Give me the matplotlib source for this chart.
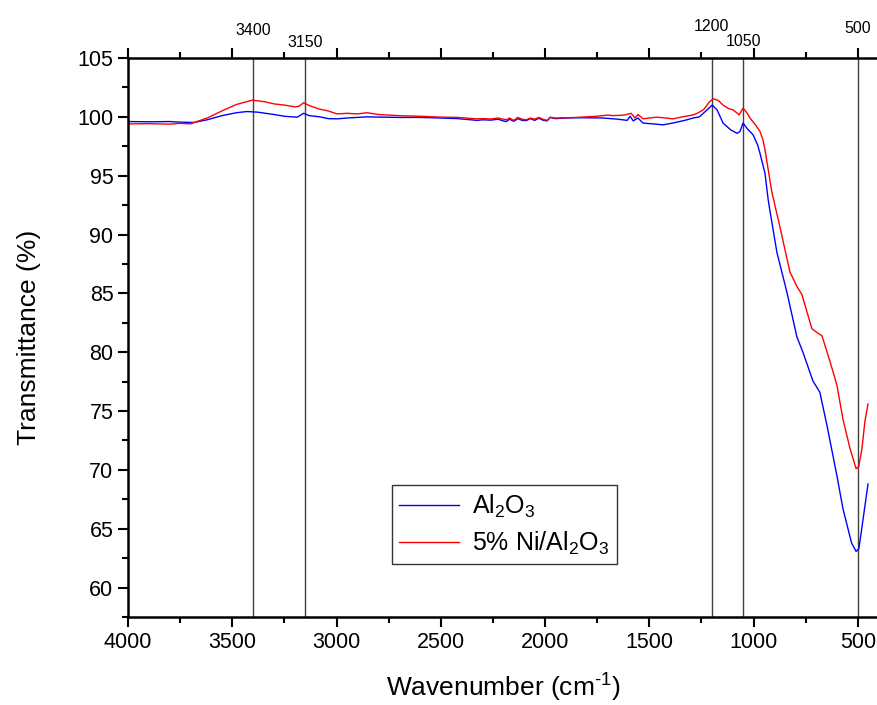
import matplotlib
matplotlib.use("Agg")
import matplotlib.pyplot as plt

plt.rcParams['font.family'] = ['Liberation Sans', 'DejaVu Sans']
plt.rcParams['mathtext.fontset'] = 'custom'
plt.rcParams['mathtext.rm'] = 'Liberation Sans'
plt.rcParams['mathtext.default'] = 'regular'

# Al2O3 spectrum (wavenumber, transmittance)
wn_al = [4000, 3900, 3800, 3750, 3686, 3620, 3550, 3480, 3430, 3380, 3300, 3250,
         3188, 3158, 3130, 3080, 3040, 2997, 2950, 2853, 2800, 2700, 2600, 2502,
         2420, 2325, 2300, 2260, 2225, 2200, 2185, 2170, 2150, 2130, 2110, 2090,
         2070, 2050, 2030, 2010, 1990, 1975, 1950, 1900, 1850, 1800, 1721, 1650,
         1606, 1592, 1577, 1554, 1530, 1480, 1434, 1380, 1330, 1289, 1260, 1222,
         1198, 1175, 1146, 1110, 1079, 1065, 1050, 1030, 1002, 980, 969, 945,
         930, 922, 888, 840, 792, 763, 715, 682, 648, 600, 571, 530, 508, 495,
         485, 466, 451]
t_al = [99.6, 99.58, 99.6, 99.55, 99.52, 99.75, 100.1, 100.35, 100.45, 100.4, 100.2, 100.05,
        99.97, 100.3, 100.1, 100.0, 99.85, 99.83, 99.9, 100.0, 99.98, 99.95, 99.95, 99.9,
        99.85, 99.7, 99.75, 99.72, 99.8, 99.65, 99.6, 99.8, 99.62, 99.85, 99.7, 99.68,
        99.85, 99.7, 99.88, 99.72, 99.65, 99.95, 99.85, 99.9, 99.92, 99.92, 99.9, 99.8,
        99.7, 100.05, 99.66, 99.9, 99.47, 99.4, 99.32, 99.5, 99.7, 99.9, 100.0, 100.6,
        101.0, 100.6, 99.47, 98.9, 98.6, 98.76, 99.47, 99.0, 98.47, 97.6, 96.9, 95.2,
        93.0, 92.1, 88.5, 85.1, 81.3, 80.0, 77.55, 76.6, 73.8, 69.5, 66.7, 63.8, 63.07, 63.3,
        64.5, 66.9, 68.8]

# 5% Ni/Al2O3 spectrum
wn_ni = [4000, 3900, 3800, 3750, 3700, 3686, 3620, 3550, 3480, 3404, 3350, 3300,
         3250, 3200, 3180, 3158, 3130, 3080, 3040, 2997, 2950, 2900, 2853, 2800,
         2700, 2600, 2502, 2420, 2325, 2300, 2260, 2225, 2200, 2185, 2170, 2150,
         2130, 2110, 2090, 2070, 2050, 2030, 2010, 1990, 1975, 1950, 1900, 1850,
         1800, 1750, 1700, 1673, 1620, 1587, 1569, 1554, 1530, 1500, 1463, 1420,
         1386, 1340, 1289, 1270, 1240, 1210, 1193, 1170, 1146, 1120, 1098, 1069,
         1050, 1030, 1017, 990, 969, 955, 945, 912, 874, 849, 825, 792, 768, 720,
         690, 672, 633, 600, 571, 537, 508, 495, 480, 466, 451]
t_ni = [99.4, 99.42, 99.38, 99.45, 99.4, 99.5, 99.9, 100.5, 101.05, 101.42, 101.3, 101.1,
        101.0, 100.85, 100.9, 101.2, 100.95, 100.65, 100.5, 100.25, 100.3, 100.25, 100.35, 100.2,
        100.1, 100.05, 99.98, 99.95, 99.83, 99.85, 99.82, 99.9, 99.8, 99.75, 99.9, 99.7,
        99.95, 99.8, 99.75, 99.9, 99.8, 99.95, 99.8, 99.7, 99.97, 99.9, 99.92, 99.95,
        100.0, 100.05, 100.15, 100.1, 100.15, 100.3, 99.9, 100.2, 99.83, 99.9, 99.97, 99.9,
        99.83, 100.0, 100.17, 100.3, 100.6, 101.3, 101.53, 101.4, 101.0, 100.7, 100.6, 100.17,
        100.74, 100.3, 99.9, 99.3, 98.76, 98.05, 97.2, 93.6, 90.7, 88.7, 86.8, 85.6, 84.9, 82.0,
        81.6, 81.4, 79.2, 77.2, 74.3, 71.8, 70.1, 70.3, 71.8, 74.1, 75.6]

marks = [3400, 3150, 1200, 1050, 500]
mark_labels = ['3400', '3150', '1200', '1050', '500']
mark_y = [1.05, 1.028, 1.057, 1.03, 1.053]

fig = plt.figure(figsize=(8.78, 7.05), dpi=100)
ax = fig.add_axes([128 / 878, 88 / 705, 750 / 878, 559 / 705])

ax.plot(wn_al, t_al, color='#0000ff', lw=1.0, label='Al$_2$O$_3$')
ax.plot(wn_ni, t_ni, color='#ff0000', lw=1.0, label='5% Ni/Al$_2$O$_3$')

for m, lab, yy in zip(marks, mark_labels, mark_y):
    ax.axvline(m, color='#404040', lw=1.0, zorder=0)
    ax.text(m, yy, lab, transform=ax.get_xaxis_transform(), ha='center',
            va='center', fontsize=11.5)

ax.set_xlim(4000, 403)
ax.set_ylim(57.5, 105)
ax.set_xticks([4000, 3500, 3000, 2500, 2000, 1500, 1000, 500])
ax.set_xticks([3750, 3250, 2750, 2250, 1750, 1250, 750], minor=True)
ax.set_yticks(range(60, 106, 5))
ax.set_yticks([57.5 + 5 * i for i in range(10)], minor=True)

ax.tick_params(which='both', direction='out', width=1.5, labelsize=15.5, top=True)
ax.tick_params(which='major', length=7)
ax.tick_params(which='minor', length=4)
ax.spines['right'].set_visible(False)
for s in ['left', 'bottom', 'top']:
    ax.spines[s].set_linewidth(1.8)

ax.set_xlabel('Wavenumber (cm$^{\u20101}$)', fontsize=19, labelpad=14)
ax.set_ylabel('Transmittance (%)', fontsize=19, labelpad=26)

leg = ax.legend(loc='upper left', bbox_to_anchor=(0.352, 0.236), fontsize=18,
                frameon=True, fancybox=False, edgecolor='black', handlelength=2.4,
                borderpad=0.3, labelspacing=0.4, handletextpad=0.5, borderaxespad=0)
leg.get_frame().set_linewidth(1.0)

fig.savefig('out.png', dpi=100)
